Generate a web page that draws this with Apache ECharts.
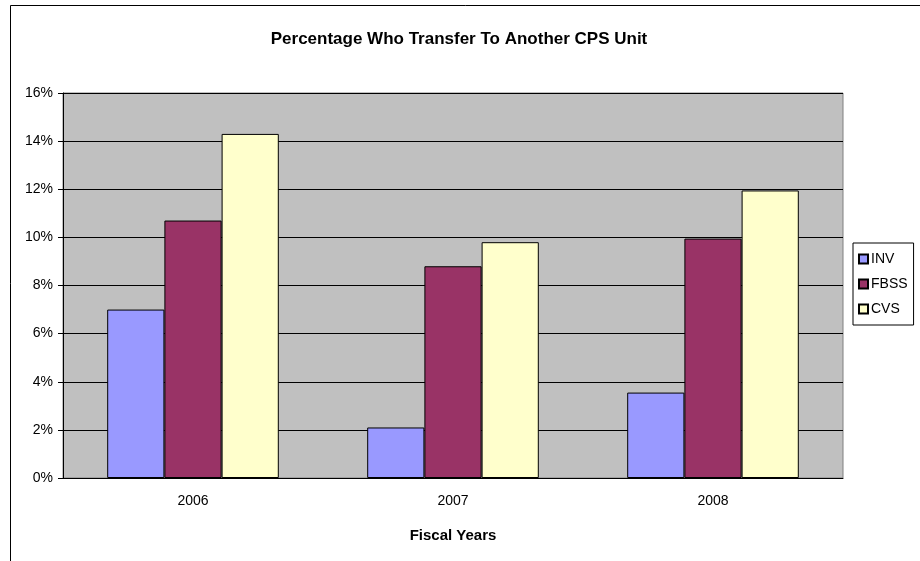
<!DOCTYPE html>
<html>
<head>
<meta charset="utf-8">
<script src="https://cdn.jsdelivr.net/npm/echarts@6/dist/echarts.min.js"></script>
<style>
  html, body { margin: 0; padding: 0; background: #fff; }
  #chart { width: 920px; height: 561px; }
</style>
</head>
<body>
<div id="chart"></div>
<script>
// data
const years = ['2006', '2007', '2008'];
const inv = [7.0, 2.1, 3.55];
const fbss = [10.7, 8.8, 9.95];
const cvs = [14.3, 9.8, 11.95];

const font = '"Liberation Sans", Arial, sans-serif';

const chart = echarts.init(document.getElementById('chart'), null, { renderer: 'canvas' });

const barSeries = (name, data, color) => ({
  name,
  type: 'bar',
  data,
  barGap: '0%',
  barCategoryGap: '34%',
  itemStyle: { color, borderColor: '#000', borderWidth: 1 },
  emphasis: { disabled: true },
});

chart.setOption({
  animation: false,
  graphic: [
    // outer chart frame (runs off the right and bottom edges)
    {
      type: 'rect',
      shape: { x: 10.5, y: 5.5, width: 1000, height: 1000 },
      style: { fill: 'none', stroke: '#000', lineWidth: 1 },
      z: -10,
    },
  ],
  title: {
    text: 'Percentage Who Transfer To Another CPS Unit',
    left: 454,
    top: 26,
    textAlign: 'center',
    textStyle: { fontFamily: font, fontSize: 17, fontWeight: 'bold', color: '#000' },
  },
  legend: {
    orient: 'vertical',
    left: 853,
    top: 243,
    padding: [9, 6, 9, 5],
    itemGap: 11,
    itemWidth: 9,
    itemHeight: 9,
    borderColor: '#000',
    borderWidth: 1,
    backgroundColor: '#fff',
    icon: 'rect',
    textStyle: { fontFamily: font, fontSize: 14, color: '#000', padding: [0, 0, 0, -2] },
    data: ['INV', 'FBSS', 'CVS'],
  },
  grid: {
    left: 63,
    right: 77,
    top: 93,
    bottom: 83,
    show: true,
    backgroundColor: '#c0c0c0',
    borderColor: '#808080',
    borderWidth: 1,
  },
  xAxis: {
    type: 'category',
    data: years,
    name: 'Fiscal Years',
    nameLocation: 'middle',
    nameGap: 50,
    nameTextStyle: { fontFamily: font, fontSize: 15, fontWeight: 'bold', color: '#000' },
    axisLine: { lineStyle: { color: '#000', width: 1 } },
    axisTick: { alignWithLabel: false, length: 5, lineStyle: { color: '#000' } },
    axisLabel: { fontFamily: font, fontSize: 14, color: '#000', margin: 16 },
  },
  yAxis: {
    type: 'value',
    min: 0,
    max: 16,
    interval: 2,
    axisLine: { show: true, lineStyle: { color: '#000', width: 1 } },
    axisTick: { show: true, length: 5, lineStyle: { color: '#000' } },
    axisLabel: { fontFamily: font, fontSize: 14, color: '#000', margin: 10, formatter: '{value}%' },
    splitLine: { lineStyle: { color: '#000', width: 1 } },
  },
  series: [
    barSeries('INV', inv, '#9999ff'),
    barSeries('FBSS', fbss, '#993366'),
    barSeries('CVS', cvs, '#ffffcc'),
  ],
});
</script>
</body>
</html>
